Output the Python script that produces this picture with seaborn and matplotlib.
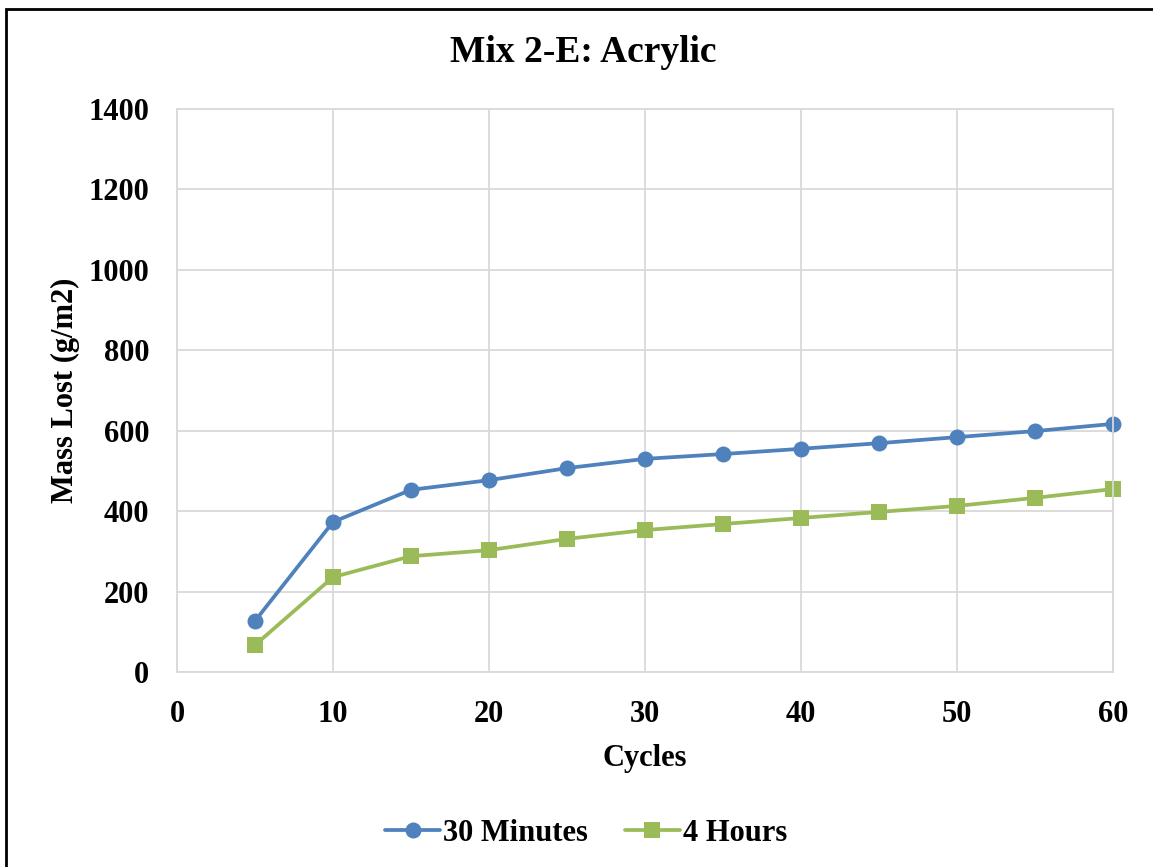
import matplotlib
matplotlib.use("Agg")
import matplotlib.pyplot as plt
import seaborn as sns
import pandas as pd
from matplotlib.patches import Rectangle

cycles = [5, 10, 15, 20, 25, 30, 35, 40, 45, 50, 55, 60]
mins30 = [127, 373, 453, 477, 507, 530, 542, 555, 569, 584, 599, 617]
hours4 = [67, 236, 288, 303, 331, 353, 368, 383, 398, 413, 433, 455]
series_names = ["30 Minutes", "4 Hours"]
x_ticks = [0, 10, 20, 30, 40, 50, 60]
y_ticks = [0, 200, 400, 600, 800, 1000, 1200, 1400]

df = pd.DataFrame({
    "Cycles": cycles * 2,
    "Mass": mins30 + hours4,
    "Series": [series_names[0]] * len(cycles) + [series_names[1]] * len(cycles),
})

sns.set_style("white")
plt.rcParams["font.family"] = ["Liberation Serif", "DejaVu Serif"]
plt.rcParams["font.weight"] = "bold"
plt.rcParams["text.color"] = "black"
plt.rcParams["axes.labelcolor"] = "black"
plt.rcParams["xtick.color"] = "black"
plt.rcParams["ytick.color"] = "black"

fig = plt.figure(figsize=(11.53, 8.67), dpi=100)
ax = fig.add_axes([0.1535, 0.2249, 0.8118, 0.6494])

palette = {series_names[0]: "#4F81BD", series_names[1]: "#9BBB59"}
markers = {series_names[0]: "o", series_names[1]: "s"}
sns.lineplot(data=df, x="Cycles", y="Mass", hue="Series", style="Series",
             palette=palette, markers=markers, dashes=False, linewidth=2.7,
             markersize=11.5, markeredgewidth=0, ax=ax, clip_on=False)

ax.set_xlim(0, 60)
ax.set_ylim(0, 1400)
ax.set_xticks(x_ticks)
ax.set_yticks(y_ticks)
ax.grid(True, color="#D9D9D9", linewidth=1.3)
ax.set_axisbelow(True)
for s in ax.spines.values():
    s.set_color("#D9D9D9")
    s.set_linewidth(1.3)
ax.tick_params(axis="x", length=0, labelsize=22, pad=20)
ax.tick_params(axis="y", length=0, labelsize=22, pad=20)
for lab in ax.get_xticklabels() + ax.get_yticklabels():
    lab.set_fontweight("bold")

ax.set_xlabel("Cycles", fontsize=22, fontweight="bold", labelpad=11)
ax.set_ylabel("Mass Lost (g/m2)", fontsize=22, fontweight="bold", labelpad=6)
fig.text(0.5056, 0.94, "Mix 2-E: Acrylic", fontsize=27, fontweight="bold",
         ha="center", va="center")

handles, labels = ax.get_legend_handles_labels()
ax.legend(handles, labels, loc="center", bbox_to_anchor=(0.5085, 0.039),
          bbox_transform=fig.transFigure, ncol=2, frameon=False,
          prop={"size": 22, "weight": "bold"}, handlelength=1.8,
          handletextpad=0.1, columnspacing=1.2)

fig.patches.append(Rectangle((6 / 1153, -0.1), 1.2, 1.1 - 9 / 867,
                             transform=fig.transFigure, fill=False,
                             edgecolor="black", linewidth=2, zorder=10))

fig.savefig("out.png", dpi=100)
